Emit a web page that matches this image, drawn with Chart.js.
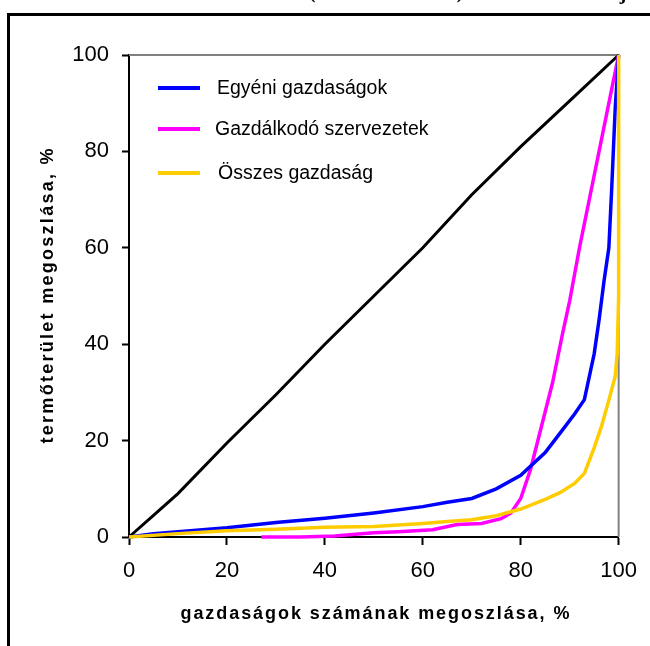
<!DOCTYPE html>
<html>
<head>
<meta charset="utf-8">
<script src="https://cdn.jsdelivr.net/npm/chart.js@4"></script>
<style>
  html, body { margin: 0; padding: 0; background: #fff; }
  #wrap { width: 650px; height: 646px; position: relative; }
</style>
</head>
<body>
<div id="wrap"><canvas id="lorenzCanvas" width="650" height="646"></canvas></div>
<script>
// tick labels
const axisTicks = [0, 20, 40, 60, 80, 100];

// egyenlő eloszlás (átló)
const diagX = [0, 5, 10, 20, 30, 40, 50, 60, 70, 80, 90, 100];
const diagY = [0, 4.5, 9, 19.5, 29.5, 40, 50, 60, 71, 81, 90.5, 100];

// Egyéni gazdaságok
const egyeniX = [0, 5, 10, 20, 30, 40, 50, 60, 65, 70, 75, 80, 85, 88, 91, 93, 95, 96, 97, 98, 98.6, 99.3, 100];
const egyeniY = [0, 0.7, 1.1, 1.9, 3, 3.9, 5, 6.3, 7.2, 8, 10, 12.8, 17.5, 21.5, 25.5, 28.5, 38, 45, 53, 60, 72.7, 89, 100];

// Gazdálkodó szervezetek
const szervX = [27, 35, 42, 50, 55, 62, 67, 72, 76, 78, 80, 82, 84, 86.5, 88.5, 90, 92, 94, 96, 98, 100];
const szervY = [0, 0, 0.2, 0.9, 1.1, 1.5, 2.6, 2.8, 3.8, 5, 8, 14, 22, 32, 42, 49, 60, 70, 80, 90, 100];

// Összes gazdaság
const osszesX = [0, 10, 20, 30, 40, 50, 60, 65, 70, 75, 80, 85, 88, 91, 93, 95, 96.5, 98, 99.3, 99.7, 100, 100];
const osszesY = [0, 0.7, 1.3, 1.6, 2, 2.2, 2.8, 3.2, 3.6, 4.4, 5.8, 7.8, 9.2, 11.1, 13.2, 18.5, 23, 28.4, 33.3, 38, 50, 100];

const seriesNames = ['Egyéni gazdaságok', 'Gazdálkodó szervezetek', 'Összes gazdaság'];
const seriesColors = ['#0000ff', '#ff00ff', '#ffcc00'];

function toPoints(xs, ys) {
  return xs.map((x, i) => ({ x: x, y: ys[i] }));
}

// frame, legend, axis titles, cut-off title
const decorPlugin = {
  id: 'decor',
  beforeDatasetsDraw(chart) {
    // gray plot border top / right, under the lines
    const ctx = chart.ctx;
    const area = chart.chartArea;
    ctx.save();
    ctx.strokeStyle = '#808080';
    ctx.lineWidth = 2;
    ctx.beginPath();
    ctx.moveTo(area.left, area.top);
    ctx.lineTo(area.right, area.top);
    ctx.lineTo(area.right, area.bottom);
    ctx.stroke();
    ctx.restore();
  },
  afterDraw(chart) {
    const ctx = chart.ctx;
    ctx.save();

    // outer frame (only left and top visible)
    ctx.strokeStyle = '#000';
    ctx.lineWidth = 3;
    ctx.beginPath();
    ctx.moveTo(8.5, 660);
    ctx.lineTo(8.5, 14.5);
    ctx.lineTo(660, 14.5);
    ctx.stroke();

    // title remains (cut at top of image)
    ctx.fillStyle = '#000';
    ctx.font = 'bold 20px "Liberation Serif"';
    ctx.textAlign = 'center';
    ctx.textBaseline = 'alphabetic';
    ctx.fillText('(', 312, -2);
    ctx.fillText(')', 460, -2);
    ctx.fillText('j', 623, -1);

    // legend
    const legendY = [88, 129, 173];
    const legendTextX = [217, 215, 218];
    ctx.font = '19.5px Arial';
    ctx.textAlign = 'left';
    ctx.textBaseline = 'middle';
    seriesNames.forEach((name, i) => {
      ctx.strokeStyle = seriesColors[i];
      ctx.lineWidth = 4;
      ctx.beginPath();
      ctx.moveTo(158, legendY[i]);
      ctx.lineTo(200, legendY[i]);
      ctx.stroke();
      ctx.fillStyle = '#000';
      ctx.fillText(name, legendTextX[i], legendY[i] + 1);
    });

    // axis titles
    ctx.font = 'bold 18px Arial';
    ctx.textBaseline = 'middle';
    drawSpaced(ctx, 'gazdaságok számának megoszlása, %', 375, 614, 389);

    ctx.translate(48, 296);
    ctx.rotate(-Math.PI / 2);
    drawSpaced(ctx, 'termőterület megoszlása, %', 0, 0, 295);
    ctx.restore();
  }
};

function drawSpaced(ctx, text, cx, cy, target) {
  ctx.letterSpacing = '0px';
  const w = ctx.measureText(text).width;
  const sp = Math.max(0, (target - w) / (text.length - 1));
  ctx.letterSpacing = sp.toFixed(2) + 'px';
  ctx.textAlign = 'left';
  ctx.fillText(text, cx - target / 2, cy);
  ctx.letterSpacing = '0px';
}

const ctx = document.getElementById('lorenzCanvas').getContext('2d');
const lorenzChart = new Chart(ctx, {
  type: 'scatter',
  data: {
    datasets: [
      {
        label: seriesNames[2],
        data: toPoints(osszesX, osszesY),
        borderColor: seriesColors[2],
        borderWidth: 3.5
      },
      {
        label: seriesNames[0],
        data: toPoints(egyeniX, egyeniY),
        borderColor: seriesColors[0],
        borderWidth: 3.5
      },
      {
        label: seriesNames[1],
        data: toPoints(szervX, szervY),
        borderColor: seriesColors[1],
        borderWidth: 3.5
      },
      {
        label: 'egyenlő eloszlás',
        data: toPoints(diagX, diagY),
        borderColor: '#000',
        borderWidth: 3
      }
    ]
  },
  options: {
    responsive: false,
    animation: false,
    showLine: true,
    clip: 4,
    elements: {
      point: { radius: 0, hoverRadius: 0 },
      line: { tension: 0, borderCapStyle: 'butt' }
    },
    layout: { padding: { top: 55, right: 30, left: 0, bottom: 0 } },
    plugins: {
      legend: { display: false },
      tooltip: { enabled: false }
    },
    scales: {
      x: {
        type: 'linear',
        min: 0,
        max: 100,
        afterFit: (scale) => { scale.height = 109; },
        afterBuildTicks: (scale) => { scale.ticks = axisTicks.map(v => ({ value: v })); },
        border: { color: '#000', width: 2 },
        grid: { drawOnChartArea: false, drawTicks: true, tickLength: 8, tickColor: '#000', tickWidth: 2 },
        ticks: { color: '#000', padding: 13, font: { family: 'Arial', size: 22 } }
      },
      y: {
        type: 'linear',
        min: 0,
        max: 100,
        afterFit: (scale) => { scale.width = 129; },
        afterBuildTicks: (scale) => { scale.ticks = axisTicks.map(v => ({ value: v })); },
        border: { color: '#000', width: 2 },
        grid: { drawOnChartArea: false, drawTicks: true, tickLength: 7, tickColor: '#000', tickWidth: 2 },
        ticks: { color: '#000', padding: 13, font: { family: 'Arial', size: 22 } }
      }
    }
  },
  plugins: [decorPlugin]
});
</script>
</body>
</html>
